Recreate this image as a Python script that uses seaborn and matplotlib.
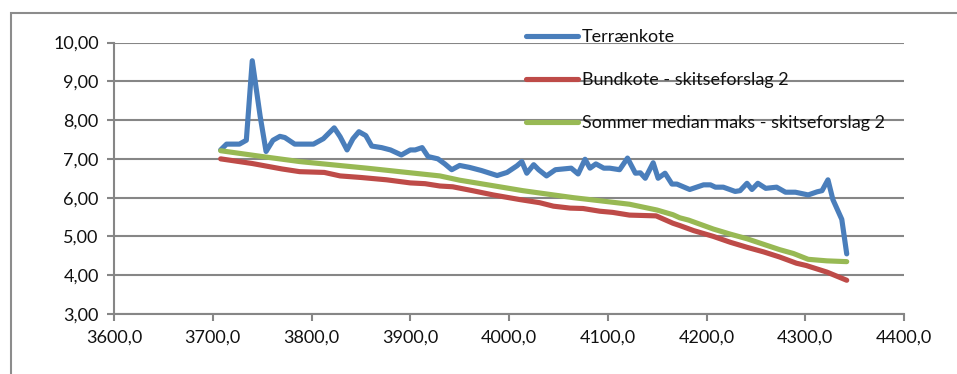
import matplotlib
matplotlib.use("Agg")
import matplotlib.pyplot as plt
import seaborn as sns
import pandas as pd
from matplotlib.patches import Rectangle

# Station (m) and level values for each series
terrain_x = [3708, 3714, 3727, 3734, 3740, 3748, 3754, 3761, 3768, 3773, 3783, 3802,
             3812, 3823, 3829, 3836, 3842, 3848, 3855, 3861, 3871, 3880, 3891, 3900,
             3905, 3912, 3918, 3928, 3935, 3942, 3950, 3960, 3972, 3988, 3998, 4008,
             4013, 4018, 4025, 4030, 4038, 4047, 4063, 4070, 4077, 4082, 4088, 4096,
             4102, 4112, 4120, 4128, 4133, 4138, 4146, 4151, 4158, 4165, 4170, 4183,
             4197, 4204, 4209, 4217, 4229, 4234, 4241, 4246, 4252, 4260, 4271, 4280,
             4290, 4303, 4312, 4317, 4323, 4328, 4337, 4342]
terrain_y = [7.23, 7.38, 7.38, 7.48, 9.53, 8.10, 7.19, 7.48, 7.58, 7.55, 7.38, 7.38,
             7.52, 7.80, 7.57, 7.23, 7.52, 7.70, 7.60, 7.33, 7.29, 7.23, 7.10, 7.23,
             7.23, 7.29, 7.06, 7.00, 6.87, 6.72, 6.83, 6.78, 6.70, 6.57, 6.65, 6.82,
             6.93, 6.63, 6.85, 6.72, 6.56, 6.72, 6.76, 6.61, 6.99, 6.76, 6.87, 6.76,
             6.76, 6.72, 7.02, 6.63, 6.64, 6.50, 6.90, 6.50, 6.63, 6.35, 6.35, 6.21,
             6.33, 6.33, 6.27, 6.27, 6.16, 6.18, 6.37, 6.21, 6.37, 6.24, 6.27, 6.14,
             6.14, 6.07, 6.15, 6.18, 6.46, 5.95, 5.44, 4.55]

bund_x = [3708, 3740, 3770, 3788, 3813, 3829, 3850, 3876, 3900, 3915, 3930, 3943,
          3963, 3984, 4011, 4031, 4045, 4062, 4075, 4092, 4105, 4122, 4149, 4166,
          4173, 4187, 4207, 4224, 4241, 4258, 4274, 4291, 4301, 4322, 4342]
bund_y = [7.00, 6.88, 6.74, 6.67, 6.65, 6.56, 6.52, 6.46, 6.38, 6.36, 6.30, 6.28,
          6.18, 6.07, 5.95, 5.87, 5.78, 5.73, 5.72, 5.65, 5.62, 5.55, 5.53, 5.34,
          5.28, 5.15, 5.00, 4.85, 4.72, 4.60, 4.47, 4.31, 4.25, 4.08, 3.87]

sommer_x = [3708, 3750, 3788, 3856, 3930, 3950, 3981, 4014, 4045, 4065, 4092, 4122,
            4150, 4166, 4173, 4182, 4207, 4224, 4241, 4261, 4274, 4288, 4303, 4322, 4342]
sommer_y = [7.21, 7.06, 6.93, 6.76, 6.56, 6.45, 6.32, 6.18, 6.07, 6.00, 5.92, 5.83,
            5.68, 5.56, 5.48, 5.42, 5.19, 5.06, 4.94, 4.77, 4.66, 4.56, 4.41, 4.37, 4.35]

series_names = ["Terrænkote", "Bundkote - skitseforslag 2", "Sommer median maks - skitseforslag 2"]
series_colors = ["#4A7EBB", "#BE4B48", "#98B954"]

y_ticks = [3, 4, 5, 6, 7, 8, 9, 10]
y_labels = ["3,00", "4,00", "5,00", "6,00", "7,00", "8,00", "9,00", "10,00"]
x_ticks = [3600, 3700, 3800, 3900, 4000, 4100, 4200, 4300, 4400]
x_labels = ["3600,0", "3700,0", "3800,0", "3900,0", "4000,0", "4100,0", "4200,0", "4300,0", "4400,0"]

frames = []
for name, xs, ys in zip(series_names,
                        [terrain_x, bund_x, sommer_x],
                        [terrain_y, bund_y, sommer_y]):
    frames.append(pd.DataFrame({"station": xs, "kote": ys, "serie": name}))
data = pd.concat(frames, ignore_index=True)

sns.set_style("white")
plt.rcParams["font.family"] = ["Lato", "DejaVu Sans"]

grey = "#868686"
fig = plt.figure(figsize=(9.57, 3.74), dpi=100)
ax = fig.add_axes([114 / 957, 1 - 314 / 374, 790 / 957, (314 - 42.5) / 374])

# Outer chart frame (extends past the right and bottom edges)
fig.patches.append(Rectangle((10.5 / 957, -0.1), 1.2, (374 - 13.5) / 374 + 0.1,
                             transform=fig.transFigure, fill=False,
                             edgecolor="#8C8C8C", linewidth=1.5, zorder=0))

sns.lineplot(data=data, x="station", y="kote", hue="serie", hue_order=series_names,
             palette=series_colors, linewidth=3.7, sort=False, estimator=None,
             ax=ax, legend=False)

ax.set_xlim(3600, 4400)
ax.set_ylim(3, 10)
ax.set_yticks(y_ticks)
ax.set_yticklabels(y_labels)
ax.set_xticks(x_ticks)
ax.set_xticklabels(x_labels)
ax.set_xlabel("")
ax.set_ylabel("")

ax.grid(axis="y", color=grey, linewidth=1.5)
ax.grid(axis="x", visible=False)
ax.set_axisbelow(True)
for side in ["top", "right"]:
    ax.spines[side].set_visible(False)
for side in ["left", "bottom"]:
    ax.spines[side].set_color(grey)
    ax.spines[side].set_linewidth(1.5)
ax.tick_params(axis="both", which="major", direction="out", length=5, width=1.5,
               color=grey, labelsize=13, labelcolor="#111111", pad=6,
               left=True, bottom=True)

handles = [plt.Line2D([], [], color=c, linewidth=3.7, solid_capstyle="round")
           for c in series_colors]
leg = ax.legend(handles, series_names, loc="upper left",
                bbox_to_anchor=(526 / 957, 1 - 29 / 374), bbox_transform=fig.transFigure,
                frameon=False, fontsize=13, handlelength=2.9, handletextpad=0.2,
                labelspacing=1.5, borderpad=0, borderaxespad=0)
for t in leg.get_texts():
    t.set_color("#111111")

fig.savefig("out.png", dpi=100, facecolor="white")
